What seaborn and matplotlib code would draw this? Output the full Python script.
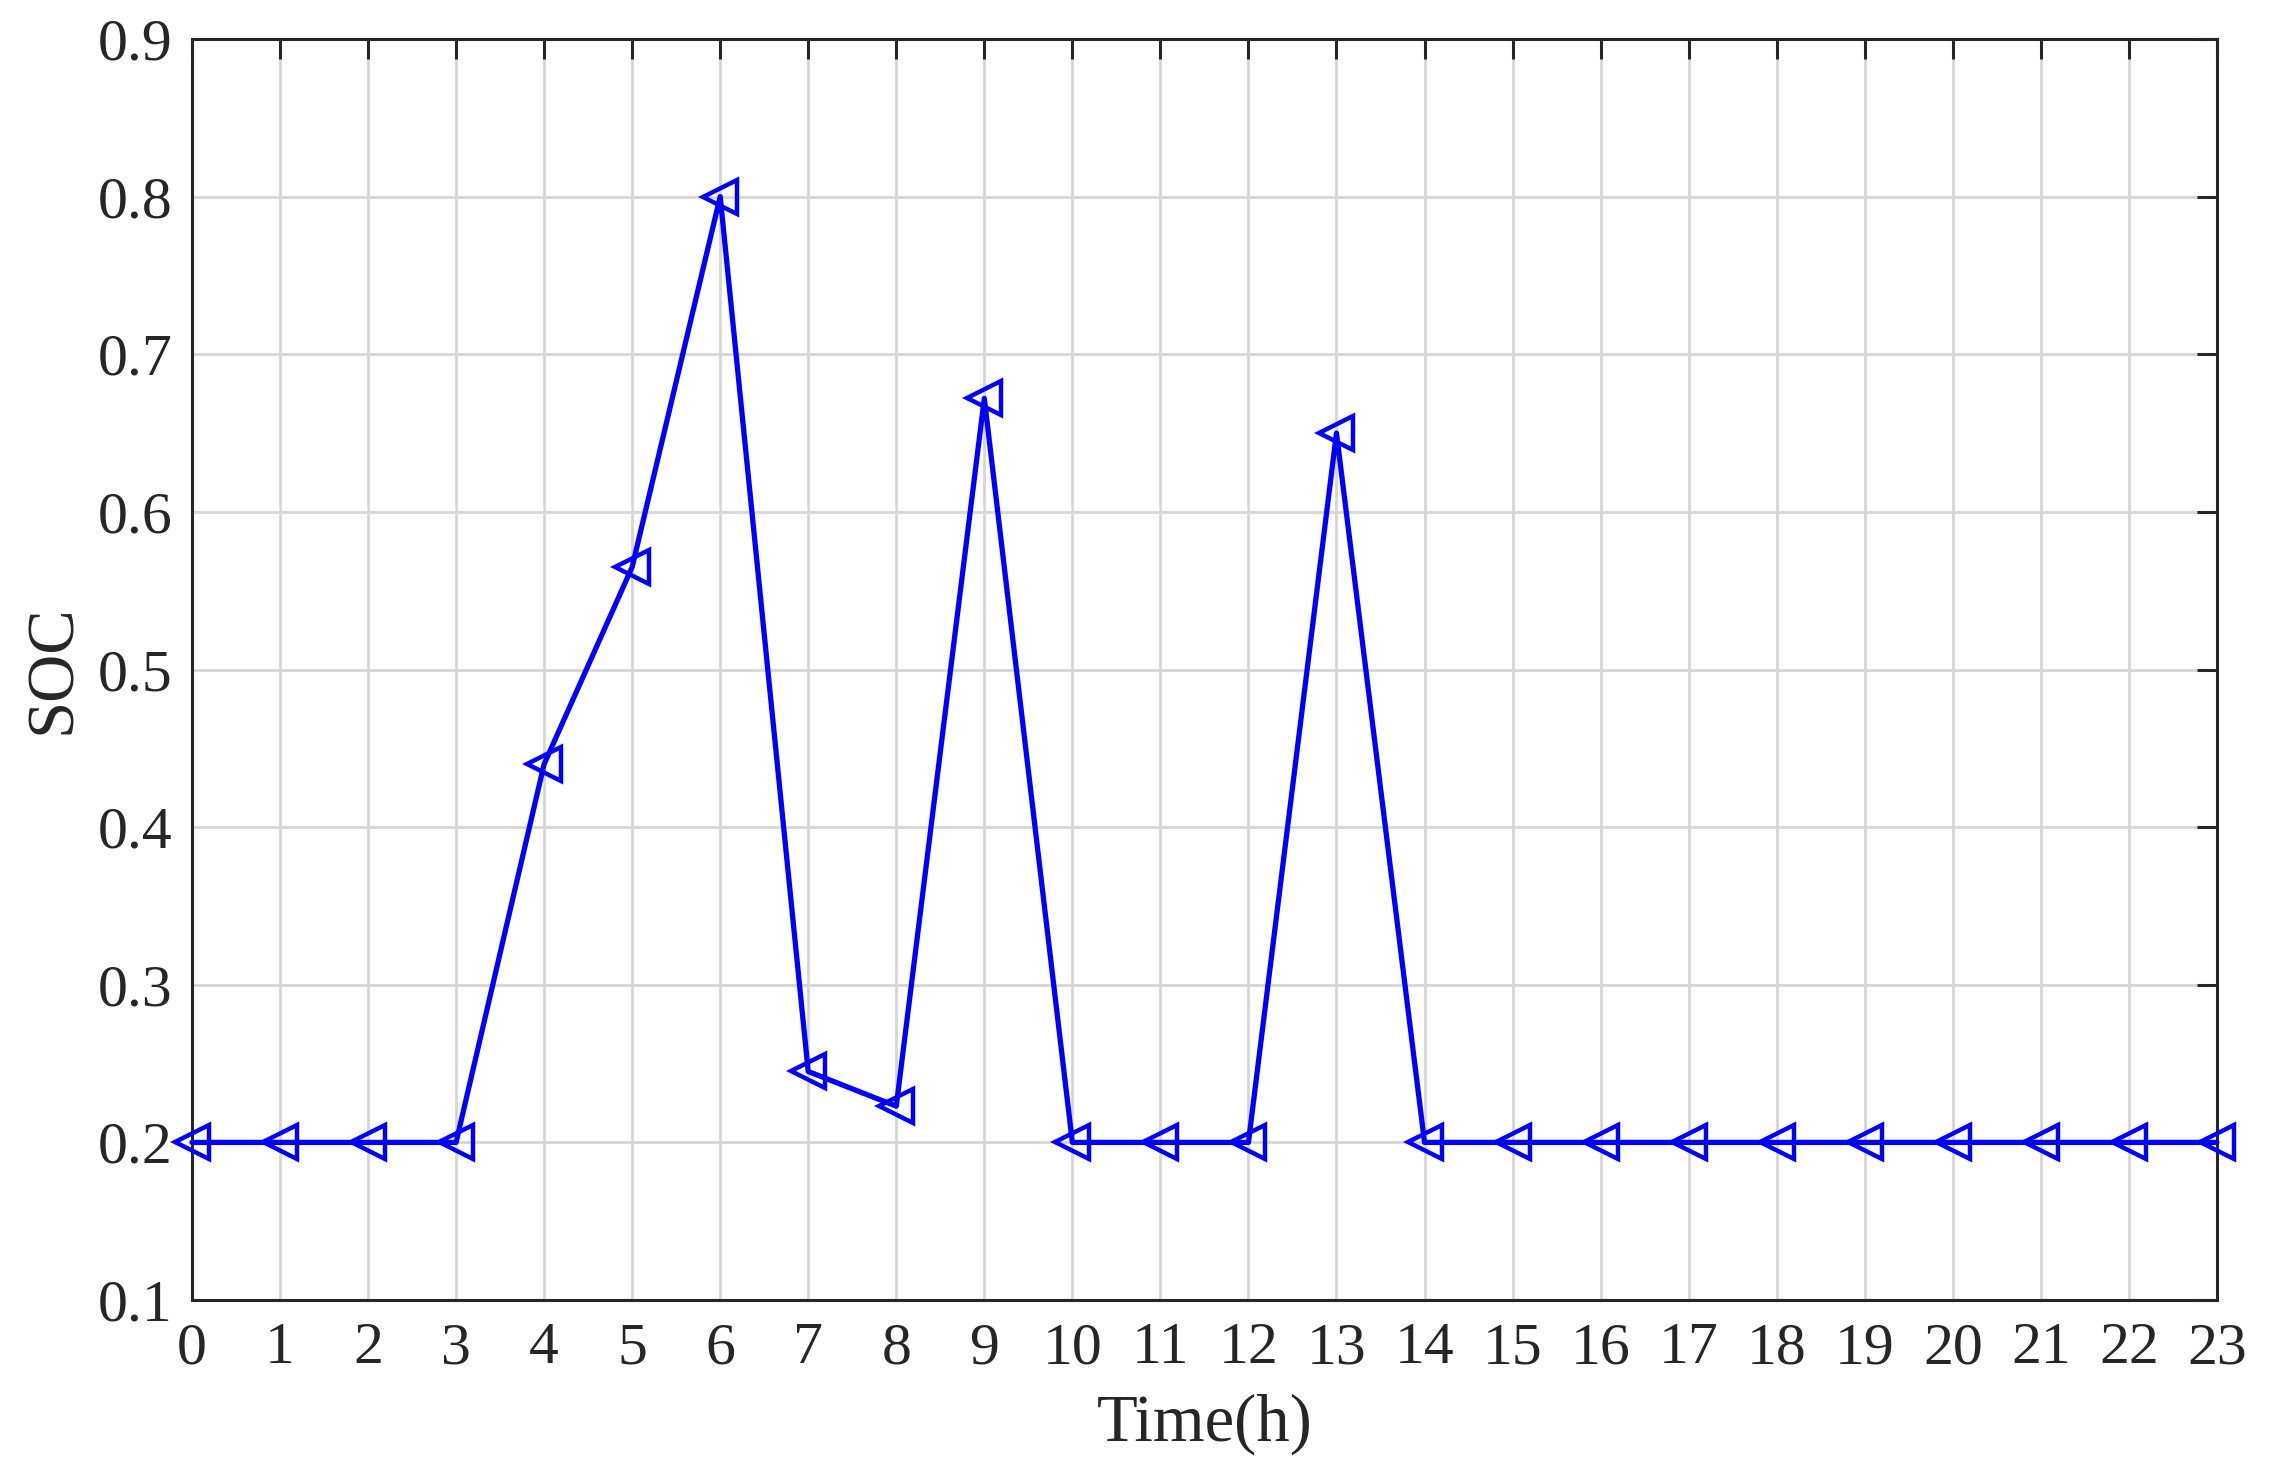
import numpy as np
import pandas as pd
import matplotlib.pyplot as plt
import seaborn as sns

# Data
hours = list(range(24))
soc = [0.2, 0.2, 0.2, 0.2, 0.44, 0.565, 0.8, 0.245, 0.223, 0.672,
       0.2, 0.2, 0.2, 0.65, 0.2, 0.2, 0.2, 0.2, 0.2, 0.2,
       0.2, 0.2, 0.2, 0.2]
ytick_vals = [0.1, 0.2, 0.3, 0.4, 0.5, 0.6, 0.7, 0.8, 0.9]

df = pd.DataFrame({'Time': hours, 'SOC': soc})

sns.set_style("white")
plt.rcParams['font.family'] = ['Liberation Serif', 'DejaVu Serif']

fig = plt.figure(figsize=(22.77, 14.70), dpi=100)
ax = fig.add_axes([0.0843, 0.1156, 0.9736 - 0.0843, 0.9735 - 0.1156])

sns.lineplot(data=df, x='Time', y='SOC', ax=ax, color='#0000ff', linewidth=3.8,
             marker='<', markersize=24, markerfacecolor='none',
             markeredgecolor='#0000ff', markeredgewidth=3.2, clip_on=False,
             zorder=5)

ax.set_xlim(0, 23)
ax.set_ylim(0.1, 0.9)
ax.set_xticks(hours)
ax.set_yticks(ytick_vals)
ax.set_yticklabels([f"{v:.1f}" for v in ytick_vals])

ax.grid(True, color='#d6d6d6', linewidth=2.0)
ax.set_axisbelow(True)
for s in ax.spines.values():
    s.set_color('#262626')
    s.set_linewidth(2.2)

ax.tick_params(direction='in', length=14.4, width=2.2, colors='#262626',
               labelsize=43, top=True, right=True)
ax.tick_params(axis='x', pad=16)
ax.tick_params(axis='y', pad=14)

ax.set_xlabel('Time(h)', fontsize=48, color='#262626', labelpad=12)
ax.set_ylabel('SOC', fontsize=48, color='#262626', labelpad=10)

plt.savefig('out.png', dpi=100)
plt.close()
